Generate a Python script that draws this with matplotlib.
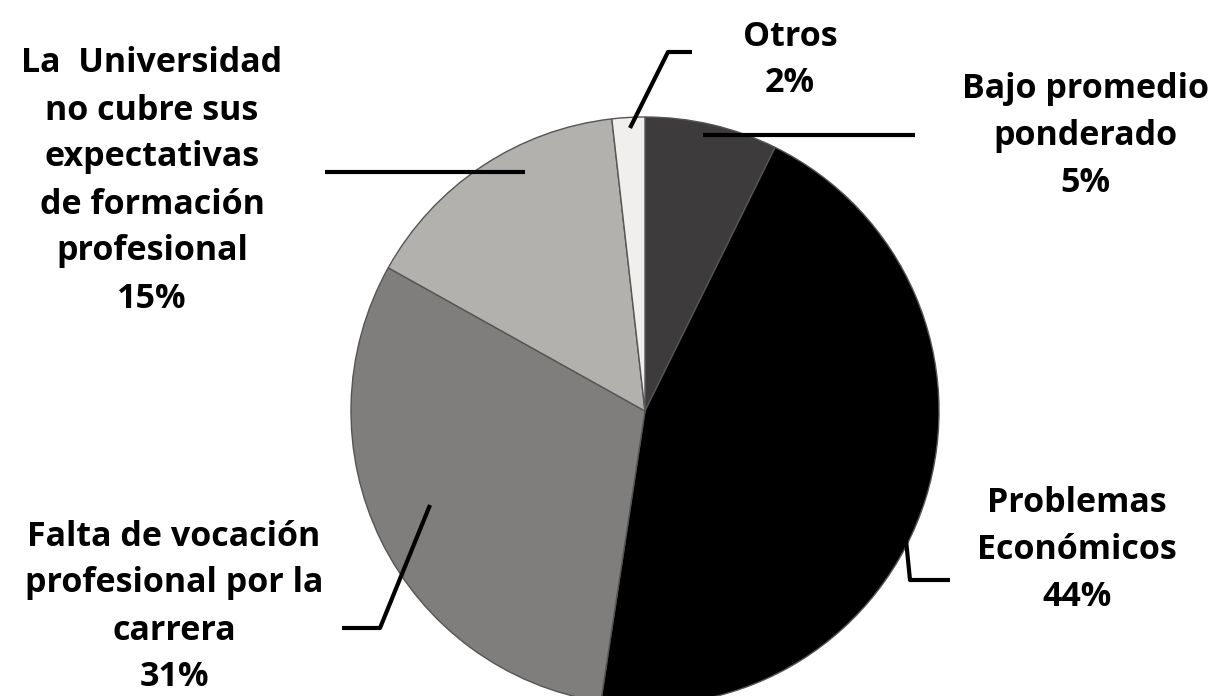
import matplotlib
matplotlib.use("Agg")
from matplotlib import pyplot as plt
import numpy as np

# porcentajes (angulos de los sectores)
categorias = ["Bajo promedio\nponderado", "Problemas\nEconómicos",
              "Falta de vocación\nprofesional por la\ncarrera",
              "La  Universidad\nno cubre sus\nexpectativas\nde formación\nprofesional",
              "Otros"]
valores = [7.3, 45.1, 30.7, 15.1, 1.8]
etiquetas_pct = ["5%", "44%", "31%", "15%", "2%"]
colores = ["#3d3b3c", "#000000", "#7f7e7c", "#b2b1ad", "#f0efed"]

W, H = 1224, 696
plt.rcParams['font.family'] = ['Open Sans', 'DejaVu Sans']
plt.rcParams['font.weight'] = 'bold'

fig = plt.figure(figsize=(W / 100, H / 100), dpi=100)
ax = fig.add_axes([0, 0, 1, 1])

cx, cy, r = 645, H - 411, 294
ax.pie(valores, colors=colores, startangle=90, counterclock=False,
       center=(cx, cy), radius=r, frame=True,
       wedgeprops=dict(edgecolor="#555555", linewidth=1.0))
ax.set_xlim(0, W)
ax.set_ylim(0, H)
ax.axis("off")

fs = 24.5
ls = 1.50

def texto(x, y, s):
    ax.text(x, H - y, s, ha="center", va="center", fontsize=fs,
            fontweight="bold", linespacing=ls, color="black")

# textos de las etiquetas
texto(790, 60, categorias[4] + "\n" + etiquetas_pct[4])
texto(1085, 136, categorias[0] + "\n" + etiquetas_pct[0])
texto(152, 181, categorias[3] + "\n" + etiquetas_pct[3])
texto(174, 607, categorias[2] + "\n" + etiquetas_pct[2])
texto(1077, 550, categorias[1] + "\n" + etiquetas_pct[1])

# lineas guia
def guia(pts):
    xs = [p[0] for p in pts]
    ys = [H - p[1] for p in pts]
    ax.plot(xs, ys, color="black", lw=3, solid_capstyle="butt")

guia([(630, 128), (668, 52), (692, 52)])
guia([(703, 135), (915, 135)])
guia([(525, 172), (325, 172)])
guia([(430, 505), (380, 628), (342, 628)])
guia([(905, 530), (910, 580), (950, 580)])

fig.savefig("out.png", dpi=100)
